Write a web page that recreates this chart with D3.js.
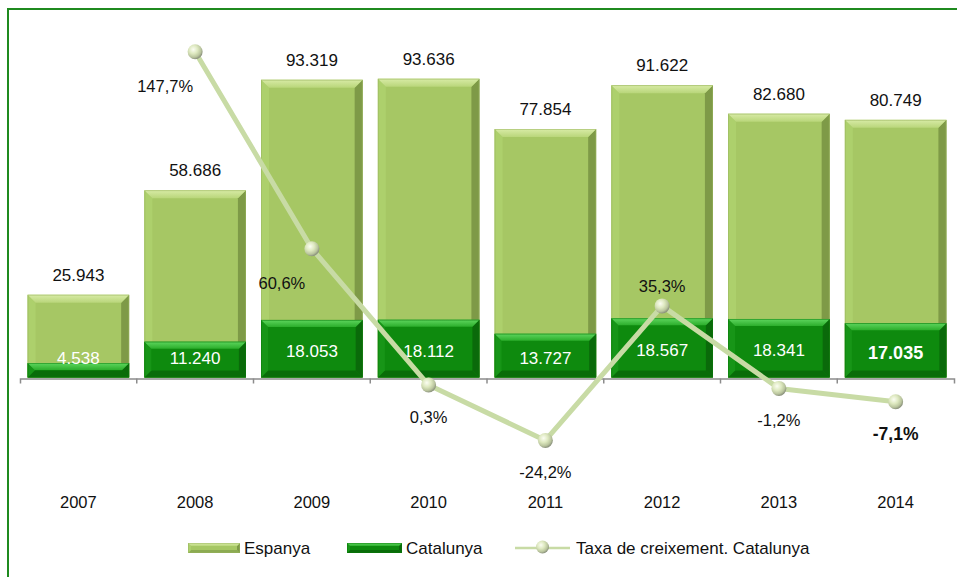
<!DOCTYPE html>
<html><head><meta charset="utf-8">
<script src="https://cdn.jsdelivr.net/npm/d3@7"></script>
<style>body{margin:0;background:#fff} svg{display:block}</style>
</head><body><svg id="c" width="957" height="577"></svg>
<script>
const years = ["2007","2008","2009","2010","2011","2012","2013","2014"];
const espanya = [25943,58686,93319,93636,77854,91622,82680,80749];
const catalunya = [4538,11240,18053,18112,13727,18567,18341,17035];
const growthYears = ["2008","2009","2010","2011","2012","2013","2014"];
const growth = [147.7,60.6,0.3,-24.2,35.3,-1.2,-7.1];
const growthLabelPlace = ["leftBelow","leftBelow","below","below","above","below","below"];
const seriesNames = ["Espanya","Catalunya","Taxa de creixement. Catalunya"];

const loc = d3.formatLocale({decimal:",", thousands:".", grouping:[3], currency:["","€"], minus:"-"});
const fmtN = loc.format(",d");
const fmtP = v => loc.format(".1f")(v) + "%";

const svg = d3.select("#c");
const FONT = "'Liberation Sans', Arial, sans-serif";

const defs = svg.append("defs");
const rg = defs.append("radialGradient").attr("id","sph").attr("cx","38%").attr("cy","35%").attr("r","65%");
rg.append("stop").attr("offset","0%").attr("stop-color","#fbfdf2");
rg.append("stop").attr("offset","45%").attr("stop-color","#dde8bf");
rg.append("stop").attr("offset","80%").attr("stop-color","#b9c49d");
rg.append("stop").attr("offset","100%").attr("stop-color","#8e957f");

function topGrad(id, c1, c2){
  const g = defs.append("linearGradient").attr("id",id).attr("x1",0).attr("y1",0).attr("x2",0).attr("y2",1);
  g.append("stop").attr("offset","0%").attr("stop-color",c1);
  g.append("stop").attr("offset","100%").attr("stop-color",c2);
}
topGrad("espTop","#d8eba6","#b9d67a");
topGrad("catTop","#5ed65e","#2cae2c");

// border
svg.append("rect").attr("x",8).attr("y",9).attr("width",980).attr("height",600)
  .attr("fill","none").attr("stroke","#1f8a1f").attr("stroke-width",2);

const x = d3.scaleBand().domain(years).range([20,954]).paddingInner(0.13).paddingOuter(0.065);
const y = d3.scaleLinear().domain([0,100000]).range([377.5,58.4]);
const y2 = d3.scaleLinear().domain([0,100]).range([385.7,159.6]);

const pal = {
  esp:{main:"#a6c764", top:"url(#espTop)", left:"#add06c", right:"#7e9a47", bottom:"#8cab52", edge:"#97b25e"},
  cat:{main:"#0e8a0e", top:"url(#catTop)", left:"#179517", right:"#0a6a0a", bottom:"#096c09", edge:"#0b7a0b"}
};

function bevelBar(g, x0, y0, w, h, c, b){
  b = Math.min(b, h/2, w/2);
  g.append("rect").attr("x",x0).attr("y",y0).attr("width",w).attr("height",h).attr("fill",c.main);
  const P = pts => pts.map(p=>p.join(",")).join(" ");
  g.append("polygon").attr("points",P([[x0,y0+h],[x0+b,y0+h-b],[x0+w-b,y0+h-b],[x0+w,y0+h]])).attr("fill",c.bottom);
  g.append("polygon").attr("points",P([[x0,y0],[x0+b,y0+b],[x0+b,y0+h-b],[x0,y0+h]])).attr("fill",c.left);
  g.append("polygon").attr("points",P([[x0+w,y0],[x0+w,y0+h],[x0+w-b,y0+h-b],[x0+w-b,y0+b]])).attr("fill",c.right);
  g.append("polygon").attr("points",P([[x0,y0],[x0+w,y0],[x0+w-b,y0+b],[x0+b,y0+b]])).attr("fill",c.top);
  g.append("rect").attr("x",x0+0.5).attr("y",y0+0.5).attr("width",w-1).attr("height",h-1)
    .attr("fill","none").attr("stroke",c.edge).attr("stroke-width",0.8).attr("opacity",0.6);
}

// bars
const bars = svg.append("g");
years.forEach((yr,i)=>{
  const bx = x(yr), bw = x.bandwidth();
  bevelBar(bars, bx, y(espanya[i]), bw, y(0)-y(espanya[i]), pal.esp, 8);
  bevelBar(bars, bx, y(catalunya[i]), bw, y(0)-y(catalunya[i]), pal.cat, 7);
});

// axis
const axis = d3.axisBottom(x).tickSizeInner(0).tickSizeOuter(5).tickPadding(118);
const ag = svg.append("g").attr("transform",`translate(0,${y(0)+1})`).call(axis);
ag.select(".domain").attr("stroke","#8c8c8c").attr("stroke-width",1.5);
ag.selectAll("text").attr("font-family",FONT).attr("font-size","16.5px").attr("fill","#111");
years.slice(1).forEach(yr=>{
  const tx = x(yr) - x.step()*x.paddingInner()/2;
  ag.append("line").attr("x1",tx).attr("x2",tx).attr("y1",0).attr("y2",5).attr("stroke","#8c8c8c").attr("stroke-width",1.5);
});

// bar labels
const labels = svg.append("g").attr("font-family",FONT).attr("font-size","17px").attr("text-anchor","middle");
years.forEach((yr,i)=>{
  const cx = x(yr) + x.bandwidth()/2;
  labels.append("text").attr("x",cx).attr("y",y(espanya[i])-20).attr("dy","0.36em").attr("fill","#111").text(fmtN(espanya[i]));
  const mid = (y(catalunya[i]) + y(0))/2 + 2;
  const last = i === years.length-1;
  labels.append("text").attr("x",cx).attr("y",Math.min(mid,358)).attr("dy","0.36em").attr("fill","#fff")
    .attr("font-weight", last ? "bold" : null).attr("font-size", last ? "18px" : null)
    .text(fmtN(catalunya[i]));
});

// growth line
const gx = d => x(d) + x.bandwidth()/2;
const line = d3.line().x((d,i)=>gx(growthYears[i])).y(d=>y2(d));
svg.append("path").datum(growth).attr("d",line).attr("fill","none").attr("stroke","#c8dba5").attr("stroke-width",5).attr("stroke-linejoin","round");
const mk = svg.append("g");
growth.forEach((v,i)=>{
  mk.append("circle").attr("cx",gx(growthYears[i])).attr("cy",y2(v)).attr("r",7.5).attr("fill","url(#sph)");
});
const pl = svg.append("g").attr("font-family",FONT).attr("font-size","16.5px").attr("text-anchor","middle").attr("fill","#111");
growth.forEach((v,i)=>{
  const px = gx(growthYears[i]), py = y2(v);
  let lx = px, ly = py;
  const p = growthLabelPlace[i];
  if(p==="leftBelow"){ lx = px-30; ly = py+34; }
  else if(p==="below"){ ly = py+32; }
  else if(p==="above"){ ly = py-20; }
  const last = i === growth.length-1;
  pl.append("text").attr("x",lx).attr("y",ly).attr("dy","0.36em")
    .attr("font-weight", last ? "bold" : null).attr("font-size", last ? "17.5px" : null)
    .text(fmtP(v));
});

// legend
const lg = svg.append("g").attr("font-family",FONT).attr("font-size","17px").attr("fill","#111");
const legY = 548;
bevelBar(lg, 188, legY-5, 52, 10, pal.esp, 3);
lg.append("text").attr("x",244).attr("y",legY).attr("dy","0.36em").text(seriesNames[0]);
bevelBar(lg, 347, legY-5, 55, 10, pal.cat, 3);
lg.append("text").attr("x",406).attr("y",legY).attr("dy","0.36em").text(seriesNames[1]);
lg.append("line").attr("x1",515).attr("x2",570).attr("y1",legY).attr("y2",legY).attr("stroke","#c8dba5").attr("stroke-width",2.5);
lg.append("circle").attr("cx",542.5).attr("cy",legY-1).attr("r",6.5).attr("fill","url(#sph)");
lg.append("text").attr("x",576).attr("y",legY).attr("dy","0.36em").text(seriesNames[2]);
</script>
</body></html>
